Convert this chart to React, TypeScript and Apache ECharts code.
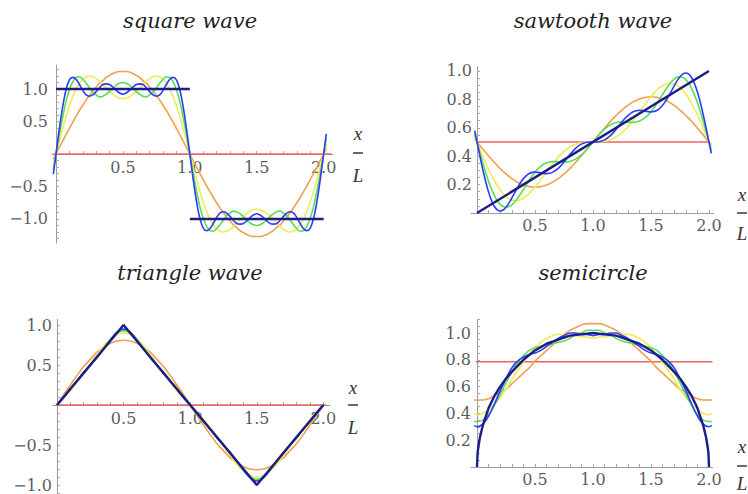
import React, { useEffect, useRef } from "react";
import * as echarts from "echarts";

// ---------- x grids ----------
const fineX = [-0.02, 0, 0.025, 0.05, 0.075, 0.1, 0.125, 0.15, 0.175, 0.2, 0.225, 0.25, 0.275, 0.3, 0.325, 0.35, 0.375, 0.4, 0.425, 0.45, 0.475, 0.5, 0.525, 0.55, 0.575, 0.6, 0.625, 0.65, 0.675, 0.7, 0.725, 0.75, 0.775, 0.8, 0.825, 0.85, 0.875, 0.9, 0.925, 0.95, 0.975, 1, 1.025, 1.05, 1.075, 1.1, 1.125, 1.15, 1.175, 1.2, 1.225, 1.25, 1.275, 1.3, 1.325, 1.35, 1.375, 1.4, 1.425, 1.45, 1.475, 1.5, 1.525, 1.55, 1.575, 1.6, 1.625, 1.65, 1.675, 1.7, 1.725, 1.75, 1.775, 1.8, 1.825, 1.85, 1.875, 1.9, 1.925, 1.95, 1.975, 2, 2.02];
const coarseX = [0, 0.05, 0.1, 0.15, 0.2, 0.25, 0.3, 0.35, 0.4, 0.45, 0.5, 0.55, 0.6, 0.65, 0.7, 0.75, 0.8, 0.85, 0.9, 0.95, 1, 1.05, 1.1, 1.15, 1.2, 1.25, 1.3, 1.35, 1.4, 1.45, 1.5, 1.55, 1.6, 1.65, 1.7, 1.75, 1.8, 1.85, 1.9, 1.95, 2];
const semiX = [-0.025, 0, 0.05, 0.1, 0.15, 0.2, 0.25, 0.3, 0.35, 0.4, 0.45, 0.5, 0.55, 0.6, 0.65, 0.7, 0.75, 0.8, 0.85, 0.9, 0.95, 1, 1.05, 1.1, 1.15, 1.2, 1.25, 1.3, 1.35, 1.4, 1.45, 1.5, 1.55, 1.6, 1.65, 1.7, 1.75, 1.8, 1.85, 1.9, 1.95, 2, 2.025];

// ---------- square wave ----------
const sqOrange = [-0.08,
  0, 0.10, 0.20, 0.30, 0.39, 0.49, 0.58, 0.67, 0.75, 0.83, 0.90, 0.97, 1.03, 1.09, 1.13, 1.18, 1.21, 1.24, 1.26, 1.27, 1.27,
  1.27, 1.26, 1.24, 1.21, 1.18, 1.13, 1.09, 1.03, 0.97, 0.90, 0.83, 0.75, 0.67, 0.58, 0.49, 0.39, 0.30, 0.20, 0.10, 0,
  -0.10, -0.20, -0.30, -0.39, -0.49, -0.58, -0.67, -0.75, -0.83, -0.90, -0.97, -1.03, -1.09, -1.13, -1.18, -1.21, -1.24, -1.26, -1.27, -1.27,
  -1.27, -1.26, -1.24, -1.21, -1.18, -1.13, -1.09, -1.03, -0.97, -0.90, -0.83, -0.75, -0.67, -0.58, -0.49, -0.39, -0.30, -0.20, -0.10, 0,
  0.08];
const sqYellow = [-0.16,
  0, 0.20, 0.39, 0.57, 0.74, 0.88, 1.00, 1.09, 1.15, 1.19, 1.20, 1.19, 1.16, 1.12, 1.07, 1.01, 0.96, 0.92, 0.88, 0.86, 0.85,
  0.86, 0.88, 0.92, 0.96, 1.01, 1.07, 1.12, 1.16, 1.19, 1.20, 1.19, 1.15, 1.09, 1.00, 0.88, 0.74, 0.57, 0.39, 0.20, 0,
  -0.20, -0.39, -0.57, -0.74, -0.88, -1.00, -1.09, -1.15, -1.19, -1.20, -1.19, -1.16, -1.12, -1.07, -1.01, -0.96, -0.92, -0.88, -0.86, -0.85,
  -0.86, -0.88, -0.92, -0.96, -1.01, -1.07, -1.12, -1.16, -1.19, -1.20, -1.19, -1.15, -1.09, -1.00, -0.88, -0.74, -0.57, -0.39, -0.20, 0,
  0.16];
const sqGreen = [-0.24,
  0, 0.30, 0.57, 0.81, 0.99, 1.11, 1.18, 1.19, 1.15, 1.09, 1.02, 0.95, 0.91, 0.88, 0.89, 0.92, 0.96, 1.01, 1.06, 1.09, 1.10,
  1.09, 1.06, 1.01, 0.96, 0.92, 0.89, 0.88, 0.91, 0.95, 1.02, 1.09, 1.15, 1.19, 1.18, 1.11, 0.99, 0.81, 0.57, 0.30, 0,
  -0.30, -0.57, -0.81, -0.99, -1.11, -1.18, -1.19, -1.15, -1.09, -1.02, -0.95, -0.91, -0.88, -0.89, -0.92, -0.96, -1.01, -1.06, -1.09, -1.10,
  -1.09, -1.06, -1.01, -0.96, -0.92, -0.89, -0.88, -0.91, -0.95, -1.02, -1.09, -1.15, -1.19, -1.18, -1.11, -0.99, -0.81, -0.57, -0.30, 0,
  0.24];
const sqBlue = [-0.31,
  0, 0.39, 0.73, 0.99, 1.14, 1.18, 1.15, 1.07, 0.98, 0.91, 0.89, 0.91, 0.96, 1.02, 1.07, 1.08, 1.07, 1.03, 0.98, 0.94, 0.92,
  0.94, 0.98, 1.03, 1.07, 1.08, 1.07, 1.02, 0.96, 0.91, 0.89, 0.91, 0.98, 1.07, 1.15, 1.18, 1.14, 0.99, 0.73, 0.39, 0,
  -0.39, -0.73, -0.99, -1.14, -1.18, -1.15, -1.07, -0.98, -0.91, -0.89, -0.91, -0.96, -1.02, -1.07, -1.08, -1.07, -1.03, -0.98, -0.94, -0.92,
  -0.94, -0.98, -1.03, -1.07, -1.08, -1.07, -1.02, -0.96, -0.91, -0.89, -0.91, -0.98, -1.07, -1.15, -1.18, -1.14, -0.99, -0.73, -0.39, 0,
  0.31];
const sqTargetHighX = [0, 1];
const sqTargetHighY = [1, 1];
const sqTargetLowX = [1, 2];
const sqTargetLowY = [-1, -1];

// ---------- sawtooth wave ----------
const swOrange = [0.520,
  0.500, 0.475, 0.450, 0.426, 0.402, 0.378, 0.355, 0.334, 0.313, 0.293, 0.275, 0.258, 0.242, 0.229, 0.216, 0.206, 0.197, 0.190, 0.186, 0.183, 0.182,
  0.183, 0.186, 0.190, 0.197, 0.206, 0.216, 0.229, 0.242, 0.258, 0.275, 0.293, 0.313, 0.334, 0.355, 0.378, 0.402, 0.426, 0.450, 0.475, 0.500,
  0.525, 0.550, 0.574, 0.598, 0.622, 0.645, 0.666, 0.687, 0.707, 0.725, 0.742, 0.758, 0.771, 0.784, 0.794, 0.803, 0.810, 0.814, 0.817, 0.818,
  0.817, 0.814, 0.810, 0.803, 0.794, 0.784, 0.771, 0.758, 0.742, 0.725, 0.707, 0.687, 0.666, 0.645, 0.622, 0.598, 0.574, 0.550, 0.525, 0.500,
  0.480];
const swYellow = [0.540,
  0.500, 0.450, 0.401, 0.353, 0.308, 0.266, 0.227, 0.192, 0.162, 0.136, 0.116, 0.101, 0.091, 0.087, 0.088, 0.093, 0.104, 0.118, 0.136, 0.158, 0.182,
  0.208, 0.235, 0.263, 0.291, 0.318, 0.345, 0.370, 0.394, 0.415, 0.434, 0.451, 0.464, 0.475, 0.484, 0.491, 0.495, 0.498, 0.499, 0.500, 0.500,
  0.500, 0.501, 0.502, 0.505, 0.509, 0.516, 0.525, 0.536, 0.549, 0.566, 0.585, 0.606, 0.630, 0.655, 0.682, 0.709, 0.737, 0.765, 0.792, 0.818,
  0.842, 0.864, 0.882, 0.896, 0.907, 0.912, 0.913, 0.909, 0.899, 0.884, 0.864, 0.838, 0.808, 0.773, 0.734, 0.692, 0.647, 0.599, 0.550, 0.500,
  0.460];
const swGreen = [0.560,
  0.500, 0.425, 0.353, 0.285, 0.222, 0.168, 0.122, 0.086, 0.061, 0.046, 0.041, 0.045, 0.058, 0.078, 0.104, 0.134, 0.166, 0.199, 0.231, 0.261, 0.288,
  0.311, 0.329, 0.343, 0.353, 0.359, 0.362, 0.362, 0.361, 0.360, 0.359, 0.360, 0.363, 0.370, 0.379, 0.393, 0.409, 0.429, 0.451, 0.475, 0.500,
  0.525, 0.549, 0.571, 0.591, 0.607, 0.621, 0.630, 0.637, 0.640, 0.641, 0.640, 0.639, 0.638, 0.638, 0.641, 0.647, 0.657, 0.671, 0.689, 0.712,
  0.739, 0.769, 0.801, 0.834, 0.866, 0.896, 0.922, 0.942, 0.955, 0.959, 0.954, 0.939, 0.914, 0.878, 0.832, 0.778, 0.715, 0.647, 0.575, 0.500,
  0.440];
const swBlue = [0.580,
  0.500, 0.401, 0.306, 0.220, 0.147, 0.088, 0.046, 0.022, 0.014, 0.021, 0.041, 0.070, 0.105, 0.143, 0.180, 0.214, 0.242, 0.263, 0.278, 0.286, 0.288,
  0.286, 0.283, 0.279, 0.277, 0.280, 0.286, 0.298, 0.314, 0.335, 0.359, 0.385, 0.410, 0.434, 0.455, 0.472, 0.485, 0.493, 0.498, 0.500, 0.500,
  0.500, 0.502, 0.507, 0.515, 0.528, 0.545, 0.566, 0.590, 0.615, 0.641, 0.665, 0.686, 0.702, 0.714, 0.720, 0.723, 0.721, 0.717, 0.714, 0.712,
  0.714, 0.722, 0.737, 0.758, 0.786, 0.820, 0.857, 0.895, 0.930, 0.959, 0.979, 0.986, 0.978, 0.954, 0.912, 0.853, 0.780, 0.694, 0.599, 0.500,
  0.420];
const swTargetX = [0, 2];
const swTargetY = [0, 1];

// ---------- triangle wave ----------
const trOrange = [0, 0.13, 0.25, 0.37, 0.48, 0.57, 0.66, 0.72, 0.77, 0.80, 0.81, 0.80, 0.77, 0.72, 0.66, 0.57, 0.48, 0.37, 0.25, 0.13, 0,
  -0.13, -0.25, -0.37, -0.48, -0.57, -0.66, -0.72, -0.77, -0.80, -0.81, -0.80, -0.77, -0.72, -0.66, -0.57, -0.48, -0.37, -0.25, -0.13, 0];
const trYellow = [0, 0.09, 0.18, 0.28, 0.39, 0.51, 0.63, 0.74, 0.82, 0.88, 0.90, 0.88, 0.82, 0.74, 0.63, 0.51, 0.39, 0.28, 0.18, 0.09, 0,
  -0.09, -0.18, -0.28, -0.39, -0.51, -0.63, -0.74, -0.82, -0.88, -0.90, -0.88, -0.82, -0.74, -0.63, -0.51, -0.39, -0.28, -0.18, -0.09, 0];
const trGreen = [0, 0.11, 0.21, 0.30, 0.39, 0.49, 0.60, 0.71, 0.82, 0.90, 0.93, 0.90, 0.82, 0.71, 0.60, 0.49, 0.39, 0.30, 0.21, 0.11, 0,
  -0.11, -0.21, -0.30, -0.39, -0.49, -0.60, -0.71, -0.82, -0.90, -0.93, -0.90, -0.82, -0.71, -0.60, -0.49, -0.39, -0.30, -0.21, -0.11, 0];
const trBlue = [0, 0.09, 0.20, 0.30, 0.41, 0.50, 0.59, 0.70, 0.81, 0.91, 0.95, 0.91, 0.81, 0.70, 0.59, 0.50, 0.41, 0.30, 0.20, 0.09, 0,
  -0.09, -0.20, -0.30, -0.41, -0.50, -0.59, -0.70, -0.81, -0.91, -0.95, -0.91, -0.81, -0.70, -0.59, -0.50, -0.41, -0.30, -0.20, -0.09, 0];
const trTargetX = [0, 0.5, 1.5, 2];
const trTargetY = [0, 1, -1, 0];

// ---------- semicircle ----------
const smOrange = [0.50,
  0.50, 0.50, 0.51, 0.53, 0.56, 0.58, 0.62, 0.66, 0.70, 0.74, 0.79, 0.83, 0.87, 0.91, 0.95, 0.99, 1.02, 1.04, 1.06, 1.07, 1.07,
  1.07, 1.06, 1.04, 1.02, 0.99, 0.95, 0.91, 0.87, 0.83, 0.79, 0.74, 0.70, 0.66, 0.62, 0.58, 0.56, 0.53, 0.51, 0.50, 0.50,
  0.50];
const smYellow = [0.40,
  0.39, 0.40, 0.43, 0.47, 0.52, 0.58, 0.65, 0.72, 0.78, 0.84, 0.89, 0.93, 0.96, 0.98, 0.99, 0.99, 0.98, 0.98, 0.97, 0.97, 0.96,
  0.97, 0.97, 0.98, 0.98, 0.99, 0.99, 0.98, 0.96, 0.93, 0.89, 0.84, 0.78, 0.72, 0.65, 0.58, 0.52, 0.47, 0.43, 0.40, 0.39,
  0.40];
const smGreen = [0.34,
  0.34, 0.35, 0.39, 0.46, 0.54, 0.63, 0.71, 0.78, 0.83, 0.87, 0.89, 0.90, 0.91, 0.92, 0.93, 0.94, 0.96, 0.99, 1.00, 1.02, 1.02,
  1.02, 1.00, 0.99, 0.96, 0.94, 0.93, 0.92, 0.91, 0.90, 0.89, 0.87, 0.83, 0.78, 0.71, 0.63, 0.54, 0.46, 0.39, 0.35, 0.34,
  0.34];
const smBlue = [0.31,
  0.30, 0.32, 0.38, 0.47, 0.57, 0.66, 0.74, 0.79, 0.82, 0.84, 0.85, 0.87, 0.90, 0.93, 0.96, 0.98, 1.00, 1.00, 0.99, 0.99, 0.98,
  0.99, 0.99, 1.00, 1.00, 0.98, 0.96, 0.93, 0.90, 0.87, 0.85, 0.84, 0.82, 0.79, 0.74, 0.66, 0.57, 0.47, 0.38, 0.32, 0.30,
  0.31];
const smTargetX = [0, 0.005, 0.01, 0.025, 0.05, 0.1, 0.15, 0.2, 0.25, 0.3, 0.4, 0.5, 0.6, 0.7, 0.8, 0.9, 1, 1.1, 1.2, 1.3, 1.4, 1.5, 1.6, 1.7, 1.75, 1.8, 1.85, 1.9, 1.95, 1.975, 1.99, 1.995, 2];
const smTargetY = [0, 0.10, 0.14, 0.22, 0.31, 0.44, 0.53, 0.60, 0.66, 0.71, 0.80, 0.87, 0.92, 0.95, 0.98, 0.99, 1, 0.99, 0.98, 0.95, 0.92, 0.87, 0.80, 0.71, 0.66, 0.60, 0.53, 0.44, 0.31, 0.22, 0.14, 0.10, 0];

// ---------- constant (mean) terms ----------
const meanValues = [0, 0.5, 0, 0.785];
const meanSpans = [[-0.02, 2.06], [0, 2], [0, 2.02], [-0.01, 2.03]];

// ---------- titles & tick labels ----------
const titles = ["square wave", "sawtooth wave", "triangle wave", "semicircle"];
const xTickLabels = [0.5, 1, 1.5, 2];
const sqYTickLabels = [-1, -0.5, 0.5, 1];
const swYTickLabels = [0.2, 0.4, 0.6, 0.8, 1];
const trYTickLabels = [-1, -0.5, 0.5, 1];
const smYTickLabels = [0.2, 0.4, 0.6, 0.8, 1];

const COLORS = {
  red: "#f06262",
  orange: "#f3a04c",
  yellow: "#f1ea5a",
  green: "#58de58",
  blue: "#2b3df5",
  navy: "#1d1d86",
};

function steps(a: number, b: number, d: number) {
  const out: number[] = [];
  const n = Math.round((b - a) / d);
  for (let i = 0; i <= n; i++) out.push(Math.round((a + i * d) * 1000) / 1000);
  return out;
}
function pairs(xs: number[], ys: number[]) {
  return xs.map((x, i) => [x, ys[i]]);
}
const fmt = (v: number) =>
  Math.abs(v) < 1e-9 ? "" : (v < 0 ? "\u2212" : "") + Math.abs(v).toFixed(1);

const panels = [
  { grid: { left: 52, top: 65, width: 281, height: 178 }, xMin: -0.03, xMax: 2.07, yMin: -1.37, yMax: 1.37,
    yLabels: sqYTickLabels, xTicks: steps(0, 2, 0.1), yTicks: steps(-1.3, 1.3, 0.1), yDist: 8, xDist: 5,
    title: [190, 21], xl: [358, 133, 153, 175] },
  { grid: { left: 471.2, top: 66.7, width: 242.4, height: 146.3 }, xMin: -0.05, xMax: 2.04, yMin: 0, yMax: 1.03,
    yLabels: swYTickLabels, xTicks: steps(0, 2, 0.1), yTicks: steps(0, 1, 0.05), yDist: 5, xDist: 4,
    title: [593, 21], xl: [742, 194, 213, 233] },
  { grid: { left: 53, top: 319.4, width: 277, height: 175.2 }, xMin: -0.03, xMax: 2.05, yMin: -1.12, yMax: 1.07,
    yLabels: trYTickLabels, xTicks: steps(0, 2, 0.1), yTicks: steps(-1.1, 1, 0.1), yDist: 5, xDist: 5,
    title: [190, 273], xl: [353, 387, 405, 427] },
  { grid: { left: 471.2, top: 319.6, width: 241.3, height: 147.4 }, xMin: -0.05, xMax: 2.03, yMin: 0, yMax: 1.1,
    yLabels: smYTickLabels, xTicks: steps(0, 2, 0.1), yTicks: steps(0, 1.1, 0.05), yDist: 6, xDist: 4,
    title: [593, 273], xl: [742, 446, 466, 483] },
];

function curve(i: number, xs: number[], ys: number[], color: string, width: number, z: number, smooth: boolean | number = 0.35) {
  return {
    type: "line",
    xAxisIndex: i,
    yAxisIndex: i,
    data: pairs(xs, ys),
    showSymbol: false,
    symbol: "none",
    smooth,
    clip: false,
    silent: true,
    z,
    lineStyle: { color, width },
    itemStyle: { color },
  };
}

const labelFont = { fontFamily: "DejaVu Serif", fontSize: 16, color: "#2e2e2e" };

function tickLabels(i: number, values: number[], axis: "x" | "y", dist: number) {
  return {
    type: "scatter",
    xAxisIndex: i,
    yAxisIndex: i,
    silent: true,
    z: 1,
    symbolSize: 0,
    itemStyle: { color: "rgba(0,0,0,0)" },
    data: values.map((v) => (axis === "x" ? [v, 0] : [0, v])),
    label: {
      show: true,
      position: axis === "x" ? "bottom" : "left",
      distance: dist,
      ...labelFont,
      formatter: (p: any) => fmt(axis === "x" ? p.value[0] : p.value[1]),
    },
    labelLayout: { hideOverlap: false },
  };
}

function buildOption() {
  const xAxis = panels.map((p, i) => ({
    gridIndex: i,
    type: "value",
    min: p.xMin,
    max: p.xMax,
    axisLine: { show: true, onZero: true, lineStyle: { color: "#9c9c9c", width: 1 } },
    axisTick: { show: true, inside: true, length: 3, customValues: p.xTicks, lineStyle: { color: "#a8a8a8" } },
    minorTick: { show: false },
    splitLine: { show: false },
    axisLabel: { show: false },
  }));
  const yAxis = panels.map((p, i) => ({
    gridIndex: i,
    type: "value",
    min: p.yMin,
    max: p.yMax,
    axisLine: { show: true, onZero: true, lineStyle: { color: "#9c9c9c", width: 1 } },
    axisTick: { show: true, inside: true, length: 3, customValues: p.yTicks, lineStyle: { color: "#a8a8a8" } },
    minorTick: { show: false },
    splitLine: { show: false },
    axisLabel: { show: false },
  }));

  const series: any[] = [];
  const sets = [
    { x: fineX, o: sqOrange, y: sqYellow, g: sqGreen, b: sqBlue },
    { x: fineX, o: swOrange, y: swYellow, g: swGreen, b: swBlue },
    { x: coarseX, o: trOrange, y: trYellow, g: trGreen, b: trBlue },
    { x: semiX, o: smOrange, y: smYellow, g: smGreen, b: smBlue },
  ];
  sets.forEach((s, i) => {
    const p = panels[i];
    series.push(tickLabels(i, xTickLabels, "x", p.xDist));
    series.push(tickLabels(i, p.yLabels, "y", p.yDist));
    series.push(curve(i, meanSpans[i], [meanValues[i], meanValues[i]], COLORS.red, 1.6, 2, false));
    series.push(curve(i, s.x, s.o, COLORS.orange, 1.6, 3));
    series.push(curve(i, s.x, s.y, COLORS.yellow, 1.6, 4));
    series.push(curve(i, s.x, s.g, COLORS.green, 1.6, 5));
    series.push(curve(i, s.x, s.b, COLORS.blue, 1.6, 6));
  });
  series.push(curve(0, sqTargetHighX, sqTargetHighY, COLORS.navy, 2.4, 7, false));
  series.push(curve(0, sqTargetLowX, sqTargetLowY, COLORS.navy, 2.4, 7, false));
  series.push(curve(1, swTargetX, swTargetY, COLORS.navy, 2.4, 7, false));
  series.push(curve(2, trTargetX, trTargetY, COLORS.navy, 2.4, 7, false));
  series.push(curve(3, smTargetX, smTargetY, COLORS.navy, 2.4, 7, false));

  const graphic: any[] = [];
  panels.forEach((p, i) => {
    graphic.push({
      type: "text",
      x: p.title[0],
      y: p.title[1],
      z: 100,
      style: {
        text: titles[i],
        font: 'italic 21px "DejaVu Serif"',
        fill: "#222",
        align: "center",
        verticalAlign: "middle",
        textAlign: "center",
        textVerticalAlign: "middle",
      },
    });
    const [cx, yx, yb, yl] = p.xl;
    graphic.push({
      type: "text", x: cx, y: yx, z: 100,
      style: { text: "x", font: 'italic 19px "Liberation Serif"', fill: "#333", align: "center", verticalAlign: "middle", textAlign: "center", textVerticalAlign: "middle" },
    });
    graphic.push({
      type: "line", z: 100,
      shape: { x1: cx - 5, y1: yb, x2: cx + 5, y2: yb },
      style: { stroke: "#444", lineWidth: 1.6 },
    });
    graphic.push({
      type: "text", x: cx, y: yl, z: 100,
      style: { text: "L", font: 'italic 19px "Liberation Serif"', fill: "#333", align: "center", verticalAlign: "middle", textAlign: "center", textVerticalAlign: "middle" },
    });
  });

  return {
    animation: false,
    backgroundColor: "#ffffff",
    grid: panels.map((p) => ({ ...p.grid, containLabel: false, outerBoundsMode: "none" })),
    xAxis,
    yAxis,
    series,
    graphic,
  };
}

export default function App() {
  const ref = useRef<HTMLDivElement>(null);
  useEffect(() => {
    if (!ref.current) return;
    const chart = echarts.init(ref.current, null, { renderer: "svg" });
    chart.setOption(buildOption() as any);
    return () => chart.dispose();
  }, []);
  return (
    <div
      ref={ref}
      style={{ position: "absolute", left: 0, top: 0, width: 748, height: 494, background: "#fff" }}
    />
  );
}
